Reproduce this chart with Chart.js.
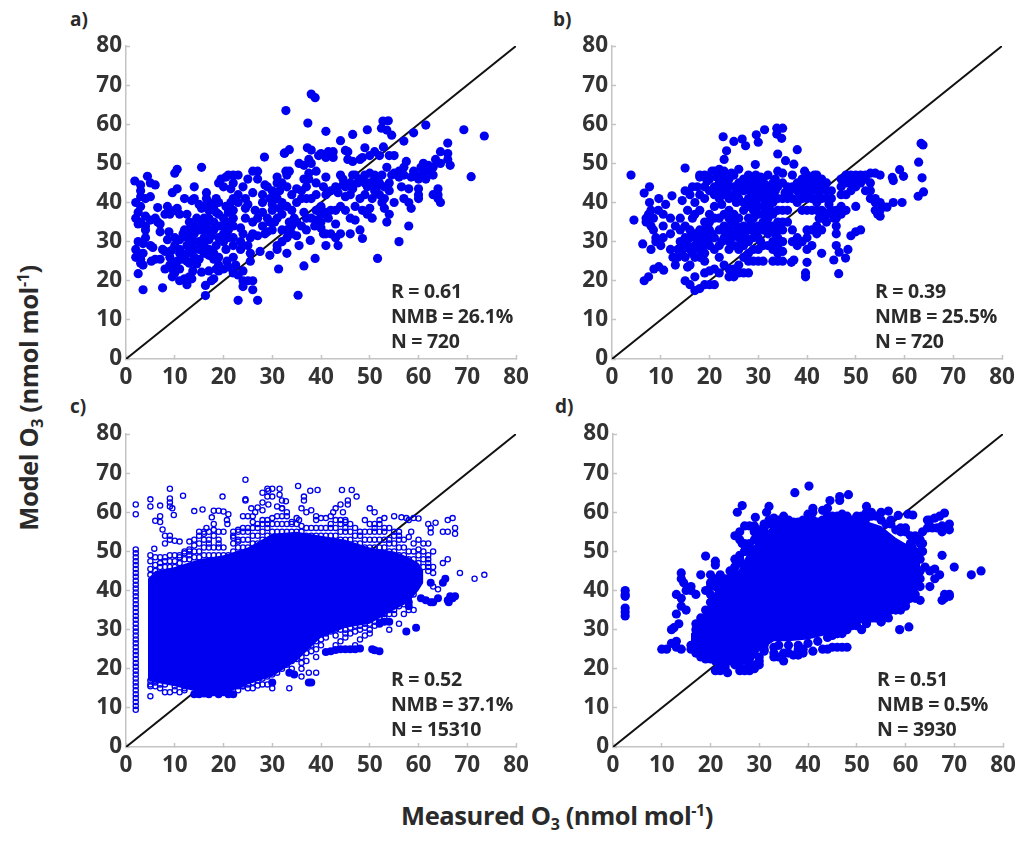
<!DOCTYPE html>
<html>
<head>
<meta charset="utf-8">
<script src="https://cdn.jsdelivr.net/npm/chart.js@4"></script>
<style>
body { margin:0; background:#fff; width:1024px; height:842px; position:relative; overflow:hidden; font-family:"Open Sans",sans-serif; font-weight:700; color:#2a2a2a; }
canvas { position:absolute; }
.t { position:absolute; white-space:nowrap; }
.note { font-size:19.5px; line-height:25px; letter-spacing:-0.3px; }
.tag { font-size:19px; }
.axt { font-size:25.5px; letter-spacing:-0.4px; }
sub { font-size:16px; vertical-align:-5px; line-height:0; }
sup { font-size:16px; vertical-align:9px; line-height:0; }
</style>
</head>
<body>
<canvas id="pa" width="460" height="361" style="left:70px;top:32px"></canvas>
<canvas id="pb" width="460" height="361" style="left:556px;top:32px"></canvas>
<canvas id="pc" width="460" height="361" style="left:70px;top:420px"></canvas>
<canvas id="pd" width="460" height="361" style="left:557px;top:420px"></canvas>

<div class="t tag" style="left:70px;top:6px">a)</div>
<div class="t tag" style="left:553px;top:6px">b)</div>
<div class="t tag" style="left:70px;top:393px">c)</div>
<div class="t tag" style="left:555px;top:393px">d)</div>

<div class="t note" style="left:391px;top:278px">R = 0.61<br>NMB = 26.1%<br>N = 720</div>
<div class="t note" style="left:875px;top:278px">R = 0.39<br>NMB = 25.5%<br>N = 720</div>
<div class="t note" style="left:391px;top:666px">R = 0.52<br>NMB = 37.1%<br>N = 15310</div>
<div class="t note" style="left:877px;top:666px">R = 0.51<br>NMB = 0.5%<br>N = 3930</div>

<div class="t axt" style="left:28px;top:398px;transform:translate(-50%,-50%) rotate(-90deg)">Model O<sub>3</sub> (nmol mol<sup>-1</sup>)</div>
<div class="t axt" style="left:401px;top:798px">Measured O<sub>3</sub> (nmol mol<sup>-1</sup>)</div>

<script>
var ticks = [0,10,20,30,40,50,60,70,80];
var oneToOne = [[0,0],[80,80]];

// panel a
var pointsA = [[1.8,45.5],[3,44.5],[3,43],[4.4,46.7],[5,45],[6,44.5],[3,41.5],[5,41.5],[4,41],[2,40],[3,39],[2.5,37.5],[2,36],[3,35],[4,36.5],[2.5,34.5],[4,34],[5,35.5],[4,33],[4,31],[2.5,30],[3.5,29.5],[2,28],[2.5,27],[2,26],[3,25.5],[3,24.5],[3.5,24],[3.5,27],[2.5,21.8],[3.5,17.7],
[6.5,38.7],[8.5,39],[9,37],[10,38],[10.5,38.5],[11,37],[8,37],[6,36],[6.5,35],[7,34.5],[7,32.5],[8.8,32.5],[5.5,28.5],[5,29],[5.2,25],[6,25.5],[7,25.5],[7.5,28],[8,27.5],[8,23],[9,24],[9,26],[9.5,21],[10,22],[10,24],[10.5,25],[10,29],[10,31],[11,30.5],[11,20],[7.5,18.2],[10,47.5],[10.5,48.5],[9.5,42.5],[10.5,43.5],[11,28],[11,27],[11,23],
[12,41],[12.5,37],[12,20.5],[12.5,19],[13,21],[13.5,20.5],[12,33],[12.5,31],[12.5,29],[12.5,27],[12.5,25],[13,35],[13,33],[13,31.5],[13,29.5],[13,27.5],[13,24.5],[13.5,40.5],[14,41],[14,44],[14,34],[14,32],[14,30],[14,28],[14,26],[14.5,36],[15,33],[15,30],[15,28],[15,25.5],[15.5,49],[15,39.5],[15.5,38.5],[15.5,22.2],[16,27],[16,29],[16,31],[16,33],[16,36],[16,39],[16.3,18.8],[16.3,16.2],[16.5,41],[16.5,42.5],
[17,22.5],[17,26.5],[17,28],[17,30.5],[17,33],[17,36],[17,38],[17,40],[17.5,20],[18,20.5],[18,25.5],[18,27],[18,33],[18,35],[18,39],[18.5,41],[19,22.5],[19,24],[19,26],[19,31],[19,34],[19,37],[19,40],[19,45],[19.5,46],[20,23],[20,32],[20,34],[20,30],[20,36],[20.5,39],[20,44],[20.5,46.5],[21,47],[21,31],[21,33],[21,35],[21,23.5],[21.5,40],[22,47],[22,45],[22,29],[22,31],[22,34],[22,36],[22,38],[22,41],[22,26],[22.5,24],[22,22],[23,47],[23,42],[23,40],[23,21.5],[23,15],
[23.5,28],[23.5,30],[24,32],[24,29],[24,22.5],[24,20],[24,18.5],[24,44],[24.5,41],[25,46],[25,29],[25,20],[25.5,25],[25.5,27],[26,20],[26,17.7],[26,48],[26,35],[26,32],[26.5,38],[27,15],[27,48],[27,46],[27,36],[27,31.5],[27.5,27.5],[28,42],[28,34],[28.5,32],[28.4,51.6],[29,44],[29,36],[29,32.5],[29.5,26.5],[29.5,41],[30,43],[30,38],[30,39.5],[31,46.5],[31,45],[31,41],[31,36],[31,28],[31,29],
[31.3,23],[32,45],[32,40],[32,37],[32,33],[32,30],[32.5,52.6],[32.8,48],[33,47],[33,44],[33,39],[33,33],[33,31],[33,27],[33.5,53.5],[33.5,48],[34,38],[34,34],[34,32],[34,42],[35,35],[35,31.5],[35.3,16.3],[35.5,29],[35.5,50],[36,34],[36,41],[36,43],[36.5,49.5],[36.5,46],[36.5,23.8],[37,36],[37,33],[37,44],[37,41],[37.5,51],[37.5,47.5],[37.5,46],[37.8,30.3],[38,41],[38,36],[38,50],[38.7,34],[38.8,25.7],[39,38],[39,42],[39,45],[39,48],[39.5,52],[40,37],[40,39],[40,52.5],[40,33.5],
[40.5,44],[41,46.5],[41,42],[41,32],[41,29],[41,51.5],[41.5,53],[41.5,36],[42,32],[42,38],[42,43],[42.5,51.5],[42.5,53],[43,44],[43,34.5],[43,31],[43.5,29],[44,47],[44,39],[44,32],[44.5,46],[45,41.5],[45,38],[45,44],[45.5,51],[45.5,53],[46,42],[46,32],[46,36],[46.5,47],[46.5,50.5],[47,47],[47,39],[47,35.5],[47.5,45],[48,51],[48,41],[48,33],[48.5,51.5],[48.5,38],[48.5,30.8],[49,47],[49,45],[49.5,37],[50,38.5],[50,47.5],[50,45],[50,52],
[50.5,36],[51,43],[51,46],[51,53],[51,47],[51.6,25.7],[52,42],[52,45],[52,52],[52.5,40],[53,41],[53,44],[53,38.5],[53.5,49],[53.5,35],[54,52],[54,37],[54,43],[54.5,47],[55,47.5],[55,40],[55,52],[56,30],[56,48],[56.5,44],[57,49],[57,41],[57,47],[57.5,50.5],[58,40],[58,43.5],[58,34],[58.5,38.5],[59,48],[59.5,47],[60,42],[60,43.5],
[60,41],[60.5,49],[61,50],[61,48],[61,47.5],[62,49.5],[62,48],[63,47],[63,49],[63,42],[63.5,51],[64,43.5],[64,41],[64.5,40],[64.5,50],[64.5,53],[66,51],[66,52.5],[66.5,49.5],[66,55.2],[64,42],
[38,67.7],[38.8,66.8],[32.8,63.5],[37.3,60.3],[41,58.2],[46.5,57.4],[49.5,58.6],[52.7,60.8],[53.8,60.9],[52.4,59],[53.5,58.5],[54.5,57.2],[59,57.8],[61.5,59.8],[69.3,58.6],[73.5,57],[44,55.8],[57,55.7],[49,54],[52.8,54.2],[45,53.3],[37.2,54],[38,53.4],[32.5,52.6],[70.8,46.6],
[8.5,30.5],[9.3,27.7],[9.5,23],[11.5,25.5],[11.7,32],[13.7,22.5],[14.5,24.3],[15.5,35],[16.5,34.5],[17.5,31.5],[18.5,29],[18.5,23],[18.5,37.5],[20.5,28],[20.7,25],[21,37.5],[21.5,43.5],[23.5,33.5],[24.5,36],[24.5,38.5],[25.5,31],[25,39.5],[26,42.5],[28,37.5],[28.5,44.5],[28,40],[29.5,35],[30.5,35],[30,33],[30.5,41.5],[31.5,38.5],[31.5,43],[33.5,35],[34.5,36],[35,40],[35,43.5],[36.5,37.5],[39,35.5],[40,35],[40.5,32],[41,37.5],[43,38],[43.5,42.5],[44.5,44.5],[46,45],[46.5,43.5],[48,46],[49,42],[49.5,44],[50.5,41],[51.5,44],[52.5,47],[54,45],[56,46.5],[58.5,46.5],[60,46],[61.5,46]];

// panel b
var pointsB = [[3.9,47],[4.5,35.5],[6.3,29.4],[6.6,20],[7.5,21],[8.6,23],[9.6,23.6],[10.6,22.7],[6.6,42.4],[7.7,44],[7.7,40],[9.6,41],[12.3,41.7],[14.4,40.5],[15,48.8],[22.8,56.8],[23.5,53.2],[23,51],[25,55.6],[26.7,56.2],[27.4,54.5],[29.6,57.3],[30,55.4],[31.3,58.6],[33.8,59],[35,59],[33.8,57.5],[34.8,56.4],[38,53.5],[34,52.4],[35.6,50.7],[37.3,49.8],[29.4,49.7],[63.4,55.1],[63.8,54.7],[62.9,50.3],[63.6,46.3],[63.9,42.7],[62.8,41.6],[59,48.4],[59.8,46.7],[57.5,46.4],[57.7,45.6],[59.5,40],[57.7,40],[56.4,38.8],[46.5,21.8],[39.7,22],[39.7,21],[40,24.7],[43,27],[45.5,25.3],[46.6,27.3],[48.4,28],[47.9,25.8],[36.8,24.7],[37.3,25.3],
[7,36],[7,35],[7.5,37],[8,38],[8,34],[8.5,33],[9,31],[8,28],[9,30],[10,29],[10.5,31],[10.5,34],[10.5,37],[11,39.5],[12,32],[12,28],[12,36],[13,34],[12.5,26],[13,24],[14,27],[14,30],[14,33],[14,36],[15,34],[15,31],[15,26],[15.5,23.5],[15.5,38],[15,43],[15,20],[16,24],[16,28],[16,31],[16,33],[16,42],[16,19],[16.5,36],[16.5,44],[17,17.5],[17,21],[17,26],[17,29],[17,32],[17,37],[17,40],[17.5,44],[18,18],[18,26],[18,28],[18,30],[18,33],[18,38],[18,42],[18,47],[18,46.5],[19,19],[19,22],[19,25],[19,27],[19,29],[19,31],[19,33],[19,35],[19,41],[19,44],[19,47],[20,19],[20,22.5],[20,29],[20,31],[20,33],[20,35],[20,37],[20,43],[20,46],[21,19],[21,23],[21,28],[21,31],[21,36],[21,39],[21,42],[21,44],[21,48],[22,22],[22,26],[22,29],[22,33],[22,36],[22,41],[22,43],[22,45],[22,47],[22,48.5],[23,24],[23,31],[23,34],[23,37],[23,42],[23,44],[23,46],[23,48],
[24,21],[24,23],[24,28],[24,30],[24,33],[24,36],[24,38],[24,41],[24,44],[24,46],[25,21],[25,23],[25,29],[25,32],[25,35],[25,37],[25,42],[25,44],[25,47],[26,22],[26,24],[26,28],[26,31],[26,33],[26,36],[26,41],[26,43],[26,45],[26,48.5],[27,22],[27,26],[27,29],[27,32],[27,34],[27,38],[27,40],[27,43],[27,46],[28,22],[28,25],[28,27],[28,30],[28,33],[28,36],[28,39],[28,41],[28,44],[28,46],[28,47],[29,25],[29,28],[29,31],[29,33],[29,36],[29,38],[29,40],[29,42],[29,44],[29,46],[30,25],[30,28],[30,31],[30,34],[30,37],[30,39],[30,41],[30,43],[30,45],[31,25],[31,29],[31,33],[31,35],[31,37],[31,39],[31,41],[31,43],[31,46],[32,29],[32,32],[32,36],[32,39],[32,41],[32,43],[32,47],[33,25],[33,28],[33,30],[33,34],[33,37],[33,40],[33,42],[33,45],[34,25],[34,27],[34,29],[34,31],[34,33],[34,35],[34,38],[34,41],[34,44],[34,48],[35,25],[35,27.5],[35,30],[35,33],[35,35],[35,38],[35,41],[35,45],[35,47.5],[36,35],[36,38],[36,41],[36,44],[37,33],[37,30],[37,41],[37,44],[37,47],[38,29],[38,31],[38,40],[38,43],[38,45],[39,30],[39,38],[39,41],[39,43],[39,46],[39.5,48],
[40,28],[40,31],[40,33],[40,38],[40,41],[40,44],[40,47],[41,29],[41,33],[41,38],[41,41],[41,43],[41,46],[42,32],[42,34],[42,38],[42,40],[42,43],[42,45],[42,47],[43,33],[43,36],[43,38],[43,41],[43,44],[43,46],[44,35],[44,37],[44,41],[44,43],[44,45],[45,38],[45,41],[45,43],[46,29],[46,32],[46,34],[46,36],[46,38],[47,37],[47,39],[47,42],[47,44],[47,46],[48,38],[48,42],[48,45],[48,47],[49,43],[49,45],[49,47],[50,39],[50,44],[50,46],[50,47],[51,45],[51,47],[51,33],[50,32.5],[49,31.5],[52,43],[52,46],[52,47],[53,41],[53,43],[53,45],[53,47.5],[54,38],[54,40],[54,41],[54,47.5],[55,36.5],[55,38],[55,40],[55,47],[55.5,39],[54.5,37],
[19.5,45.5],[20.5,48],[21.5,46.5],[22.5,39.5],[23.5,43],[24.5,47.5],[25.5,40],[26.5,44],[27.5,44.5],[28.5,42.5],[28.5,45],[29.5,41],[29.5,43],[29.5,47],[30.5,42],[30.5,44],[30.5,46.5],[31.5,38],[31.5,40],[31.5,42],[31.5,44.5],[32.5,38],[32.5,40],[32.5,44],[33.5,41],[33.5,43],[33.5,46],[35.5,42.5],[36.5,43],[38.5,42],[38.5,44],[39.5,42],[39.5,45],[40.5,43],[40.5,46],[41.5,44.5],[41.5,47],[42.5,42],[43.5,45],[22.5,30],[23.5,32],[24.5,31],[25.5,34],[26.5,30],[27.5,31],[28.5,35],[29.5,32],[30.5,30],[31.5,34],[32.5,34],[33.5,32],[34.5,30],[24.5,35],[19.5,30],[20.5,32],[18.5,31],[17.5,30],[16.5,27],[15.5,29],[14.5,28],[13.5,28],[13.5,26],[45.5,36],[44.5,39.5],[43.5,37.5],[42.5,36],[8.5,36],[9.5,38],[7.5,35.5]];

// panel c: hollow fringe, column at x=2, solid dots, and the saturated core as a band
var coreXC = [4.5,6,10,15,20,25,30,35,40,45,50,55,58,60,61];
var coreTopC = [43,45,46,48,49,51,54.5,55,54,53,51,50,48.5,47,45];
var coreBottomC = [17,16.5,15.5,14,13.5,16,18,22,28,30.5,31.5,35,37,40,42];
var columnYC = [9.5,10.5,11.5,12.5,13.5,14.5,15.5,16.5,17.5,18.5,19.5,20.5,21.5,22.5,23.5,24.5,25.5,26.5,27.5,28.5,29.5,30.5,31.5,32.5,33.5,34.5,35.5,36.5,37.5,38.5,39.5,40.5,41.5,42.5,43.5,44.5,45.5,46.5,47.5,48.5,49.5,50.5];
var hollowC = [[2,59.5],[2,62],[5,61.5],[5,63.3],[6,57.8],[7,57.5],[7,59],[7,61.7],[8,52],[9,66],[9,63.5],[9,62.5],[9,61.5],[9.5,61],[9.8,59.3],[11.7,64.2],[7.5,55.6],[8,54],[9,54],[9,53],[10,52.7],[11,52.5],[5.8,50.7],[5,49],[5,47.5],[5,45.5],[5,44],[7,48.5],[8,48.5],[9,49],[10,49],[11,49],[12,50],[13,50.5],[13,52.5],[14,53],[14,60.3],[15,55],[16,55],[16.5,56],[17,52],[18,60.4],[15.7,60.7],[17.6,58.7],[19,60.4],[20,60.2],[21,59.5],[20.7,58],[20.8,57],[19.8,64],[19,55],[19,53],[22,54],[23,55],[23,52.5],[24,56],[25,56],[24,59],[25,59],[26,59],[26.5,60],[24.5,63.3],[24.5,63],[24.5,68.3],[25.7,61],[27,61.2],[28,60.5],[28,62.5],[28,65],[29,66],[29,64],[29.2,62],[30,66],[30,64],[29.2,65.5],[31,61.5],[32,61],[31.5,66],[31.5,64.5],[32,63],[32.8,62.8],[32,61],[33,60],[31,57],[29,57],[27,56],[33,57],[34,57.5],[35.5,58],[35.3,66.7],[36.5,64],[36.5,63],[36,61],[37,60],[37.8,65.5],[38,60.5],[39.3,65.7],[39,59],[40,58.5],[41,58.5],[42,59],[43,61],[42.5,60],[44,62],[44,58],[45,56],[45,58],[44.5,60],[44.3,65.7],[45.5,63],[45.5,62],[46.3,65.7],[47.3,64],[46,57],[47,56],[48,55],[49,58],[50,57],[51,56],[50,61],[51,60],[52,58],[53,58.5],[53,56],[54,56],[54,53],[55,59],[55,55],[56,54],[56.5,58.7],[57.5,58.5],[58,58],[59,58.5],[60,58.4],[58.5,55],[58,53.7],[57,53],[60,53],[60,50.5],[61,52],[62,52],[62,49],[63,50],[62,48],[63,46],[63,44.5],[63,41],[64,40.3],[65,47],[66,48],[62.5,54.8],[62.5,56],[63.5,57.3],[62,57],[65,55],[66,55],[66,58],[67,58.5],[67.5,56],[67.5,54.5],[68.5,44.5],[71.5,43],[73.5,44],[58,35],[59,35],[57,34],[55,34],[56,31.5],[54,30],[50,29],[49,28.5],[48,27.5],[47,26],[45,28],[44,27],[43,26],[39,23],[36,20],[36,18],[33.5,15],[30,15],[28,16],[27,15.7],[25,15],[24,15.5],[39,19],[5,13],[8,14],[9,14],[11,14],[12,15],[8,17],[5,15.5],[6,17]];
// columns of hollow circles along the edge of the core: x first, then its y values
var stacksC = [[6,45,46.5,48.5],[7,46,47],[8,46,47.5],[9,46,47.5],[10,46,47.5],[11,47,48.5],[12,48,49.5],[13,48,49,50],[14,48.5,50,51.5],[15,48.5,50,52,54],[16,49,51,53,54.5],[17,49,51,53,55],[18,49,51,54,55.5,57],[19,49,51,52],[20,49,51,55],[21,49],[22,50,52,53.5,55],[23,51,53,55.5],[24,51,53,55],[25,51,53,55],[26,52,54,56,57.5],[27,52,54,57],[28,53,55,57,58],[29,54,56,58],[30,55,57,58.5],[31,55,59],[32,55,57,59],[33,55,59],[34,55,57],[35,55,57,58.5],[36,55,56.5],[37,54,56],[38,54,56],[39,54,56,58],[40,54,56],[41,54,56],[42,54,56,57],[43,54,56,58],[44,53,55,57],[45,53,55,57.5],[46,53,55],[47,52,54],[48,52,54],[49,51,53,55],[50,51,53,55],[51,51,53,55,57],[52,51,53,55,57],[53,51,53,55],[54,50,52],[55,50,52,54],[56,49,51,53,55],[57,49,51],[58,48,50],[59,48,50,52],[60,47,49],[61,46,48,50],[62,45,46,47],
[5,17,16],[6,16.5,15.5],[7,16,15],[8,16],[10,15.5,14.5],[12,14.5,15.5],[23,14.5,15.5],[24,15.5,16],[25,16],[26,16.5,15],[27,17],[28,17.5],[29,18,16],[30,18.5],[31,19,20],[32,20,21],[33,21],[34,22,20],[35,22.5],[36,23,21.5],[37,24,22],[37.5,19],[38,26,24.5],[39,27,25],[40,27.5,26],[41,29,28],[42,29.5],[43,30,28.5],[44,30],[45,30,29],[46,30.5,29],[47,31,29.5],[48,31,30],[49,31.5,30.5],[50,31.5,30],[51,32,31],[52,33,32],[53,34,33],[54,35,34],[55,35],[56,36],[57,36.5],[58,38],[59,39]];
var solidC = [[14,13.5],[15,13.5],[16,13.7],[17,13.5],[18,14],[19,13.5],[20,14],[21,13.5],[22,13.5],[30,16.5],[33.5,19],[34.5,18.5],[38,16.5],[37.5,16.5],[57.5,29.5],[59.5,30.5],[41,24.3],[42,24.5],[43,24.8],[44,25],[45,25],[46,25],[47,25],[48,25.2],[50.5,25],[51,24.7],[52,24.5],[60.5,38],[61.5,37.5],[62.5,37],[63,37],[64,38],[66,37.5],[66.5,38.5],[67,38],[67.5,38.5],[66.2,37],[62.5,42],[65,42],[65.5,43],[58,37],[58,36],[54,32],[53,32],[52,31.5]];

// panel d: solid fringe and the saturated core as a band
var coreXD = [16,18,21,23,25,27,28,30,33,36,40,45,50,55,58,60,62,63];
var coreTopD = [29,32,40,42,43.5,48,50.5,53,57,58,58,58.5,58.5,56.5,53.5,52,52,49];
var coreBottomD = [25,23,23,22,21.5,21,20.5,24.5,27,27,27.5,29,31.5,32,35.5,36.5,39,41];
var pointsD = [[2.5,40],[2.5,39],[2.5,38.5],[2.5,35.5],[2.5,34.5],[2.5,33.5],[10,25],[11,25],[12,26.5],[13,27],[13,25.5],[14,25],[12,30],[12.5,30.5],[13,34],[13,39],[14,38],[14,36],[15,35],[13.5,31.5],[14,44.5],[14,43],[14.5,42],[15,40],[16,41],[16,40],[17,39],[18,44],[19,40],[19,48.8],[20,42],[20,44],[21,47.5],[21,46.5],[22,43],[23,41],[24,37],[21,19.5],[22,19.5],[22,21],[23,20.5],[23.5,19],[17,25],[18,23.5],[19,22.5],[20,22.5],[25.5,60],[26.5,61.7],[25,54],[26,55],[26,53],[26.5,52],[27,56.5],[28,56.5],[29,56.5],[29,55],[30,54.5],[31,56],[29.2,58.7],[31,57],[32,58],[31.5,60],[32,61.5],[25,46],[25,44.5],[26,48],[27,50],[37.3,65],[40.2,66.7],[41,61],[41,60],[43,60.5],[44,61],[44.5,63],[46.5,63],[46.5,64],[48.3,64.5],[52,61.5],[53,60],[55,60],[56.5,60.3],[58.5,59.2],[60.5,59.5],[61.5,59.3],[63.5,55],[64.5,56],[64.5,58],[65,58],[65.5,56],[66,58.5],[66.5,56],[67,59],[67.5,56.5],[68,59.8],[67.5,55],[69,57],[69,55.5],[62,53],[63,52],[63,50],[63,48],[64,46],[63,45],[62,43],[65,45],[65,41],[66,43],[66,45.5],[67,44],[67.5,49],[70,46],[73.5,44],[75.5,45],[62,38],[63,37.5],[60,39],[68,38],[68,39],[69,39],[69,38.5],[67.5,37.5],[58,35],[59,35],[58.8,30],[60.7,30.7],[56.5,33],[55,32],[52,31.5],[51,30],[47,29],[46,29],[45,28.5],[45,25.5],[46,25.5],[47,25.5],[48,25.5],[44,25],[43,25],[41,24.5],[39,24],[39,25],[36,24],[37,23.5],[38,23.5],[35,24],[34,23],[33,23],[35,22],[31,25],[30,22],[29,20],[28,19.5],[27,19.5],[26,19.5]];
// solid dots along the edge of the core: x first, then its y values
var stacksD = [[17,30,31.5],[18,31,33],[19,35,33],[20,37,39,41],[21,41,43],[22,42,44],[23,43,42],[24,43,45],[25,46,48],[26,49,47],[27,50,52],[28,52,51],[29,53,55],[30,53.5,55.5],[31,55],[32,57],[33,57,58.5],[34,58,57],[35,58,59],[36,58,57],[37,57.5],[38,57.5],[39,58],[40,58,59.5],[41,58],[42,57.5],[43,58],[44,59],[45,59],[46,59],[47,59.5],[48,59],[49,58],[50,59],[51,59],[52,58.5,60],[53,59],[54,59],[55,58],[56,57],[57,57,58],[58,55.5],[59,55,56],[60,55,56],[61,54,52],[62,53,54],[63,53],[63.5,52,50],
[16,26,25],[17,25,24],[18,24,23],[19,23,24],[20,23],[21,22],[22,22],[23,22,23],[24,22],[25,21],[26,20.5],[27,20],[28,20],[29,21],[30,21,23],[31,24.5,26],[33,25.5,24],[34,26],[36,26],[38,26,25],[40,26.5],[42,27],[44,28],[46,29],[48,30],[49,31],[50,31],[52,32],[54,33],[55,32],[56,34],[57,35],[59,36],[60,36,37],[61,38],[62,39],[63,41,43]];

function flat(stacks){
  var out = [];
  stacks.forEach(function(s){
    for(var i=1; i<s.length; i++) out.push([s[0],s[i]]);
  });
  return out;
}
function xy(pairs){
  return pairs.map(function(p){ return {x:p[0], y:p[1]}; });
}
function edge(xs, ys){
  return xs.map(function(x,i){ return {x:x, y:ys[i]}; });
}
function dots(pairs, radius, hollow){
  return {
    data: xy(pairs),
    pointRadius: radius,
    pointBorderWidth: hollow ? 1.3 : 0,
    pointBorderColor: "#0000f0",
    pointBackgroundColor: hollow ? "rgba(0,0,0,0)" : "#0000f0",
    showLine: false,
    order: 2
  };
}
function band(xs, top, bottom){
  return [
    {data: edge(xs,top), showLine:true, pointRadius:0, borderWidth:0, fill:"+1", backgroundColor:"#0000f0", order:3},
    {data: edge(xs,bottom), showLine:true, pointRadius:0, borderWidth:0, fill:false, order:3}
  ];
}
function drawPanel(id, sets){
  sets.push({data: xy(oneToOne), showLine:true, pointRadius:0, borderColor:"#111", borderWidth:2, order:5});
  var axis = function(pos, size){
    return {
      type: "linear",
      position: pos,
      min: 0,
      max: 80,
      afterBuildTicks: function(s){ s.ticks = ticks.map(function(v){ return {value:v}; }); },
      afterFit: function(s){
        if(pos=="left") s.width = size; else s.height = size;
        // keep the plot box where it is, labels may hang over
        s.paddingTop = s.paddingBottom = s.paddingLeft = s.paddingRight = 0;
      },
      border: {color:"#c4c4c4", width:1.5},
      grid: {drawOnChartArea:false, tickLength:-4, tickColor:"#c4c4c4", tickWidth:1.5},
      ticks: {color:"#333", padding:pos=="left" ? 8 : 9, maxRotation:0, autoSkip:false, font:{family:"Open Sans", weight:"bold", size:22.5}}
    };
  };
  new Chart(document.getElementById(id).getContext("2d"), {
    type: "scatter",
    data: {datasets: sets},
    options: {
      responsive: false,
      animation: false,
      layout: {autoPadding:false, padding:{top:14, right:14}},
      plugins: {legend:{display:false}, tooltip:{enabled:false}},
      scales: {x: axis("bottom",34), y: axis("left",56)}
    }
  });
}

drawPanel("pa", [dots(pointsA,4.6,false)]);
drawPanel("pb", [dots(pointsB,4.6,false)]);
drawPanel("pc", band(coreXC,coreTopC,coreBottomC).concat([
  dots(columnYC.map(function(y){ return [2,y]; }),2.6,true),
  dots(hollowC.concat(flat(stacksC)),2.6,true),
  dots(solidC,4,false)
]));
drawPanel("pd", band(coreXD,coreTopD,coreBottomD).concat([dots(pointsD.concat(flat(stacksD)),4.6,false)]));
</script>
</body>
</html>
